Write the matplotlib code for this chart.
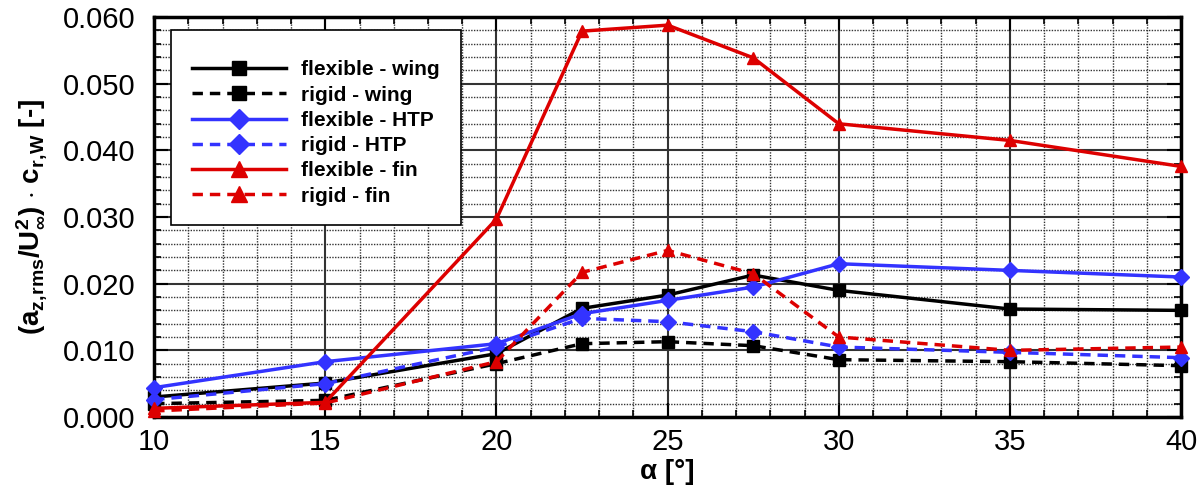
import matplotlib.pyplot as plt
from matplotlib.patches import Rectangle
from matplotlib.ticker import MultipleLocator, FormatStrFormatter

# angle of attack [deg]
alpha = [10, 15, 20, 22.5, 25, 27.5, 30, 35, 40]

flex_wing = [0.0030, 0.0051, 0.0095, 0.0163, 0.0183, 0.0213, 0.0190, 0.0162, 0.0160]
rigid_wing = [0.0020, 0.0025, 0.0080, 0.0110, 0.0113, 0.0107, 0.0086, 0.0083, 0.0077]
flex_htp = [0.0044, 0.0083, 0.0110, 0.0155, 0.0175, 0.0195, 0.0230, 0.0220, 0.0210]
rigid_htp = [0.0026, 0.0050, 0.0105, 0.0148, 0.0143, 0.0128, 0.0105, 0.0097, 0.0089]
flex_fin = [0.0013, 0.0022, 0.0297, 0.0579, 0.0588, 0.0539, 0.0440, 0.0415, 0.0376]
rigid_fin = [0.0009, 0.0021, 0.0083, 0.0217, 0.0250, 0.0215, 0.0120, 0.0100, 0.0105]

labels = ['flexible - wing', 'rigid - wing', 'flexible - HTP',
          'rigid - HTP', 'flexible - fin', 'rigid - fin']

plt.rcParams['font.family'] = ['Liberation Sans', 'DejaVu Sans']
plt.rcParams['mathtext.fontset'] = 'custom'
plt.rcParams['mathtext.rm'] = 'Liberation Sans:bold'
plt.rcParams['mathtext.it'] = 'Liberation Sans:bold'
plt.rcParams['mathtext.bf'] = 'Liberation Sans:bold'

fig = plt.figure(figsize=(12.04, 4.9), dpi=100)
ax = fig.add_axes([0.128, 0.149, 0.853, 0.816])

black, blue, red = '#000000', '#3333ff', '#dd0000'
series = [
    (flex_wing, black, '-', 's', 8),
    (rigid_wing, black, '--', 's', 8),
    (flex_htp, blue, '-', 'D', 8),
    (rigid_htp, blue, '--', 'D', 8),
    (flex_fin, red, '-', '^', 9),
    (rigid_fin, red, '--', '^', 9),
]
for (vals, col, ls, mk, ms), lab in zip(series, labels):
    ax.plot(alpha, vals, color=col, linestyle=ls, marker=mk, markersize=ms,
            linewidth=2.5, label=lab, dashes=(3, 2) if ls == '--' else (None, None),
            clip_on=False, zorder=3)

ax.set_xlim(10, 40)
ax.set_ylim(0, 0.06)
ax.xaxis.set_major_locator(MultipleLocator(5))
ax.xaxis.set_minor_locator(MultipleLocator(1))
ax.yaxis.set_major_locator(MultipleLocator(0.01))
ax.yaxis.set_minor_locator(MultipleLocator(0.002))
ax.yaxis.set_major_formatter(FormatStrFormatter('%.3f'))

ax.grid(True, which='major', color='#333333', linewidth=1.5, linestyle='-')
ax.grid(True, which='minor', color='#333333', linewidth=1.0, linestyle=(0, (1, 1)))
ax.set_axisbelow(True)

ax.tick_params(which='both', direction='in', top=True, right=True)
ax.tick_params(which='major', length=10, width=1.5, labelsize=21)
ax.tick_params(axis='y', which='major', pad=13.5)
ax.tick_params(axis='x', which='major', pad=8)
ax.tick_params(which='minor', length=5, width=1.2)
for sp in ax.spines.values():
    sp.set_linewidth(2.5)

ax.set_xlabel('α [°]', fontsize=20, fontweight='bold', labelpad=2)
ax.set_ylabel(r'(a$_{z,\!rms}$/U$^2_\infty$) $\cdot$ c$_{r,\!W}$ [-]',
              fontsize=20, fontweight='bold', labelpad=10)

# legend box drawn by hand, entries placed inside it
ax.add_patch(Rectangle((0.0166, 0.48), 0.2825, 0.4875, transform=ax.transAxes,
                       facecolor='white', edgecolor='black', linewidth=1.2,
                       zorder=4))
leg = ax.legend(loc='upper left', bbox_to_anchor=(0.037, 0.892),
                fontsize=15, frameon=False, markerscale=1.3,
                handlelength=4.5, handletextpad=0.75, labelspacing=0.3,
                borderpad=0, borderaxespad=0)
leg.set_zorder(5)
for t in leg.get_texts():
    t.set_fontweight('bold')

fig.savefig('out.png', dpi=100)
